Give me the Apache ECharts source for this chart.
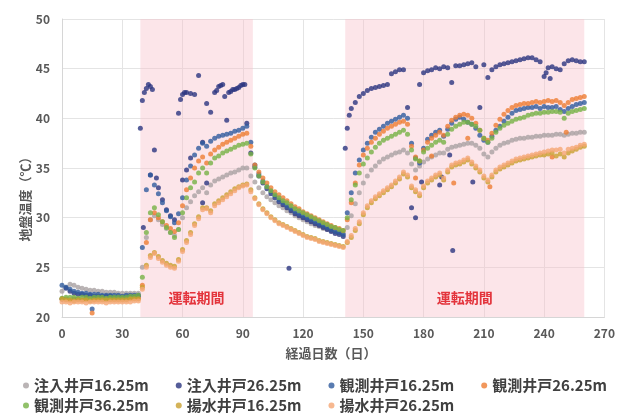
<!DOCTYPE html>
<html>
<head>
<meta charset="utf-8">
<script src="https://cdn.jsdelivr.net/npm/echarts@6/dist/echarts.min.js"></script>
<style>
  html, body { margin: 0; padding: 0; background: #ffffff; }
  #chart { width: 618px; height: 414px; }
</style>
</head>
<body>
<div id="chart"></div>
<script>
// Elapsed days of the readings (every 2 days, day 0 to day 260)
const days = [];
for (let d = 0; d <= 260; d += 2) days.push(d);

// Operation periods (start day, end day)
const runPeriods = [[39, 95], [141, 260]];
const runLabel = '運転期間';

const xTicks = { min: 0, max: 270, interval: 30 };
const yTicks = { min: 20, max: 50, interval: 5 };

const seriesNames = ['注入井戸16.25m', '注入井戸26.25m', '観測井戸16.25m', '観測井戸26.25m',
                     '観測井戸36.25m', '揚水井戸16.25m', '揚水井戸26.25m'];

// Ground temperature (°C) per well, one value per entry of `days`
const inj1 = [
  22.6, 23.0, 23.3, 23.2, 23.0, 22.9, 22.8, 22.7, 22.7, 22.6, 22.6, 22.5, 22.5, 22.5, 22.4, 22.4, 22.4, 22.4, 22.4, 22.4,
  25.0, 28.0, 29.8, 30.2, 29.8, 29.3, 28.9, 28.5, 28.2, 28.8, 30.0, 31.0, 31.6, 32.2, 32.6, 33.0, 32.5, 33.3, 33.7, 33.9, 34.1, 34.3, 34.5, 34.6, 34.8, 35.0, 35.0, 34.2,
  33.6, 33.0, 32.5, 32.1, 31.8, 31.5, 31.2, 31.0, 30.7, 30.5, 30.2, 30.0, 29.8, 29.6, 29.4, 29.2, 29.1, 28.9, 28.8, 28.7, 28.6, 28.5, 28.4,
  29.0, 30.2, 31.4, 32.5, 33.5, 34.2, 34.8, 35.2, 35.6, 35.9, 36.1, 36.3, 36.5, 36.6, 36.8, 36.5, 35.4, 34.8, 35.2, 35.6,
  35.9, 36.1, 36.3, 36.5, 36.5, 36.9, 37.1, 37.2, 37.3, 37.4, 37.5, 37.5, 37.3, 37.0, 36.4, 36.1, 36.6, 37.0, 37.3, 37.5,
  37.6, 37.8, 37.9, 38.0, 38.0, 38.1, 38.1, 38.2, 38.2, 38.3, 38.3, 38.3, 38.4, 38.4, 38.3, 38.4, 38.5, 38.5, 38.6, 38.6
];
const inj2 = [
  21.8, 22.9, 22.6, 22.4, 22.3, 22.3, 22.2, 22.2, 22.1, 22.1, 22.1, 22.1, 22.1, 22.0, 22.0, 22.0, 22.0, 22.0, 22.0, 22.1,
  41.8, 43.0, 43.2, 36.8, 33.0, 31.8, 30.8, 30.2, 29.8, 40.5, 42.4, 42.6, 42.5, 42.4, 44.3, 37.6, 41.5, 40.6, 42.6, 43.2, 43.4, 39.8, 42.7, 42.9, 43.1, 43.4, 39.5, 36.5,
  35.1, 34.2, 33.5, 32.9, 32.4, 32.0, 31.6, 31.3, 31.0, 30.7, 30.4, 30.2, 30.0, 29.8, 29.6, 29.4, 29.2, 29.0, 28.8, 28.6, 28.4, 28.3, 28.1,
  39.0, 41.0, 41.6, 42.2, 42.5, 42.8, 43.0, 43.1, 43.2, 43.3, 43.4, 44.5, 44.7, 44.9, 44.9, 41.1, 31.0, 30.0, 43.4, 44.6,
  44.8, 44.9, 45.1, 45.0, 45.2, 45.1, 43.6, 45.3, 45.3, 45.4, 45.5, 45.6, 45.2, 41.1, 45.4, 44.1, 44.9, 45.2, 45.4, 45.5,
  45.6, 45.7, 45.8, 45.9, 46.0, 46.1, 46.1, 45.9, 45.7, 44.2, 45.1, 45.2, 45.0, 44.9, 45.5, 45.8, 45.9, 45.8, 45.7, 45.7
];
const obs1 = [
  23.2, 23.0, 22.8, 22.6, 22.5, 22.4, 22.4, 22.3, 22.3, 22.3, 22.2, 22.2, 22.2, 22.2, 22.2, 22.1, 22.2, 22.2, 22.2, 22.2,
  27.0, 32.8, 34.3, 33.3, 32.4, 31.5, 30.7, 30.1, 29.5, 30.4, 32.0, 33.8, 35.2, 36.3, 37.0, 37.5, 37.2, 37.7, 38.0, 38.2, 38.3, 38.4, 38.5, 38.7, 38.8, 39.0, 39.2, 37.6,
  35.3, 34.4, 33.7, 33.1, 32.6, 32.2, 31.8, 31.5, 31.2, 30.9, 30.6, 30.4, 30.2, 30.0, 29.8, 29.6, 29.4, 29.2, 29.0, 28.8, 28.6, 28.5, 28.3,
  30.5, 32.5, 34.5, 35.8, 36.8, 37.5, 38.1, 38.6, 38.9, 39.2, 39.5, 39.7, 39.9, 40.1, 40.3, 40.0, 37.5, 36.0, 35.5, 37.0,
  37.9, 38.3, 38.6, 38.8, 38.2, 38.9, 39.5, 39.9, 40.1, 39.9, 39.6, 39.4, 39.0, 38.3, 37.8, 37.6, 38.2, 38.8, 39.2, 39.7,
  40.1, 40.5, 40.8, 40.9, 41.0, 41.1, 41.1, 41.2, 41.0, 41.2, 41.1, 41.1, 41.2, 40.9, 40.7, 41.0, 41.2, 41.4, 41.5, 41.6
];
const obs2 = [
  21.8, 21.8, 21.7, 21.8, 21.8, 21.7, 21.8, 21.8, 21.7, 21.8, 21.8, 21.8, 21.8, 21.8, 21.8, 21.8, 21.8, 21.9, 21.9, 21.9,
  23.2, 27.5, 29.8, 30.5, 30.0, 29.6, 29.2, 28.9, 28.6, 29.5, 31.2, 32.8, 34.0, 35.0, 35.7, 36.1, 35.5, 36.4, 36.8, 37.1, 37.4, 37.6, 37.8, 38.0, 38.2, 38.4, 38.5, 37.2,
  35.3, 34.6, 34.0, 33.5, 33.0, 32.6, 32.3, 32.0, 31.7, 31.4, 31.1, 30.9, 30.6, 30.4, 30.2, 30.0, 29.8, 29.6, 29.4, 29.2, 29.0, 28.9, 28.7,
  29.8, 31.5, 33.5, 35.3, 36.3, 37.0, 37.6, 38.0, 38.4, 38.7, 39.0, 39.2, 39.4, 39.6, 39.7, 39.4, 37.2, 36.1, 35.7, 36.8,
  37.6, 38.0, 38.3, 38.6, 38.3, 39.2, 39.8, 40.1, 40.3, 40.4, 40.3, 40.0, 39.5, 38.8, 38.0, 37.8, 38.5, 39.3, 39.9, 40.4,
  40.8, 41.1, 41.3, 41.4, 41.5, 41.5, 41.6, 41.7, 41.6, 41.7, 41.8, 41.7, 41.8, 41.6, 41.3, 41.6, 41.9, 42.0, 42.1, 42.2
];
const obs3 = [
  21.9, 22.0, 22.0, 22.0, 21.9, 22.0, 22.0, 21.9, 22.0, 22.0, 22.0, 21.9, 22.0, 22.0, 22.0, 22.0, 22.0, 22.1, 22.1, 22.2,
  24.0, 28.5, 30.5, 31.0, 30.3, 29.6, 29.0, 28.5, 28.0, 28.8, 30.5, 32.0, 33.0, 33.6, 34.5, 35.0, 34.5, 35.5, 36.0, 36.2, 36.5, 36.7, 36.9, 37.1, 37.3, 37.4, 37.5, 36.4,
  35.0, 34.2, 33.6, 33.1, 32.7, 32.3, 32.0, 31.7, 31.5, 31.2, 30.9, 30.7, 30.5, 30.3, 30.1, 29.9, 29.7, 29.5, 29.3, 29.1, 29.0, 28.8, 28.7,
  30.0, 31.8, 33.3, 34.5, 35.4, 36.0, 36.6, 37.1, 37.5, 37.8, 38.0, 38.2, 38.4, 38.6, 38.8, 38.4, 36.8, 35.9, 35.7, 36.6,
  37.0, 37.3, 37.6, 37.8, 37.6, 38.4, 38.9, 39.2, 39.4, 39.6, 39.6, 39.4, 39.2, 38.8, 38.0, 37.6, 38.0, 38.6, 39.0, 39.3,
  39.5, 39.7, 39.9, 40.0, 40.1, 40.3, 40.4, 40.5, 40.5, 40.6, 40.6, 40.7, 40.7, 40.6, 40.0, 40.5, 40.7, 40.8, 40.9, 41.0
];
const pump1 = [
  21.8, 21.7, 21.7, 21.6, 21.7, 21.7, 21.7, 21.6, 21.7, 21.7, 21.7, 21.7, 21.7, 21.7, 21.7, 21.7, 21.7, 21.8, 21.8, 21.8,
  23.0, 25.2, 26.2, 26.5, 26.1, 25.7, 25.4, 25.2, 25.1, 25.8, 26.8, 27.7, 28.5, 29.4, 30.1, 31.0, 31.0, 30.7, 31.4, 31.7, 32.0, 32.3, 32.6, 32.9, 33.1, 33.3, 33.4, 32.8,
  32.0, 31.4, 30.9, 30.5, 30.1, 29.8, 29.5, 29.3, 29.1, 28.9, 28.7, 28.5, 28.3, 28.1, 28.0, 27.9, 27.7, 27.6, 27.5, 27.4, 27.3, 27.2, 27.1,
  27.5, 28.0, 28.7, 29.4, 30.3, 31.0, 31.5, 31.9, 32.2, 32.5, 32.8, 33.1, 33.5, 33.9, 34.4, 34.1, 33.0, 32.6, 32.2, 33.0,
  33.5, 33.8, 34.1, 34.3, 33.8, 34.6, 35.1, 35.3, 35.4, 35.6, 35.8, 35.4, 35.0, 34.6, 34.0, 33.6, 34.1, 34.6, 34.9, 35.1,
  35.3, 35.5, 35.7, 35.8, 35.9, 36.0, 36.1, 36.2, 36.3, 36.3, 36.4, 36.5, 36.2, 36.4, 36.1, 36.5, 36.7, 36.9, 37.1, 37.2
];
const pump2 = [
  21.5, 21.5, 21.4, 21.5, 21.5, 21.5, 21.4, 21.5, 21.5, 21.5, 21.5, 21.4, 21.5, 21.5, 21.5, 21.5, 21.5, 21.5, 21.6, 21.6,
  22.8, 25.0, 26.0, 26.4, 25.9, 25.5, 25.2, 25.0, 24.9, 25.6, 26.6, 27.5, 28.3, 29.2, 29.9, 30.8, 30.9, 30.5, 31.2, 31.5, 31.8, 32.1, 32.4, 32.7, 33.0, 33.2, 33.3, 32.6,
  31.9, 31.3, 30.8, 30.4, 30.0, 29.7, 29.4, 29.2, 29.0, 28.8, 28.6, 28.4, 28.2, 28.0, 27.9, 27.8, 27.6, 27.5, 27.4, 27.3, 27.2, 27.1, 27.0,
  27.6, 28.2, 28.9, 29.6, 30.5, 31.2, 31.7, 32.1, 32.4, 32.7, 33.0, 33.3, 33.7, 34.1, 34.6, 34.3, 33.2, 32.8, 32.4, 33.2,
  33.7, 34.0, 34.3, 34.5, 34.0, 34.8, 35.3, 35.5, 35.6, 35.8, 36.0, 35.6, 35.2, 34.8, 34.2, 33.8, 34.3, 34.8, 35.1, 35.3,
  35.5, 35.7, 35.9, 36.0, 36.1, 36.2, 36.3, 36.4, 36.5, 36.6, 36.7, 36.8, 36.8, 36.9, 36.5, 36.9, 37.0, 37.1, 37.3, 37.4
];

// Extra readings taken between the regular ones, as [day, °C]
const inj2Extra = [
  [39, 39.0], [41, 42.6], [43, 43.4], [45, 42.9], [40.5, 29.0], [44, 34.3], [47, 34.0],
  [59, 41.9], [61, 42.6], [60, 33.8], [62, 34.8], [64, 36.0], [70, 31.5], [72, 33.5],
  [77, 42.8], [79, 43.3], [81, 42.2], [83, 42.6], [85, 42.9], [87, 43.0], [89, 43.3], [91, 43.4],
  [113, 24.9], [141, 37.0], [143, 40.3], [179, 33.6], [188, 33.3], [189, 34.1], [193, 36.3],
  [194.5, 26.7], [204.5, 33.6], [241, 44.6], [243, 44.0]
];
const obs1Extra = [[15, 20.8]];
const obs2Extra = [[15, 20.4], [176, 34.0], [184, 36.2], [195, 33.5], [202, 38.0], [213, 33.1], [244, 36.1], [251, 38.6]];

const colors = ['#a9a1a3', '#2b3580', '#2f5b9e', '#ee7d33', '#76b245', '#c9a030', '#f5a674'];
const values = [inj1, inj2, obs1, obs2, obs3, pump1, pump2];
const extras = [[], inj2Extra, obs1Extra, obs2Extra, [], [], []];

const labelFont = 'Noto Sans CJK JP';
const axisColor = '#595959';

const series = seriesNames.map((name, k) => {
  const pts = days.map((d, i) => [d, values[k][i]]).concat(extras[k]);
  const s = {
    name: name,
    type: 'scatter',
    data: pts,
    symbol: 'circle',
    symbolSize: 5,
    itemStyle: { color: colors[k] },
    emphasis: { disabled: true }
  };
  if (k === 0) {
    s.markArea = {
      silent: true,
      itemStyle: { color: 'rgba(247, 190, 200, 0.4)' },
      label: {
        show: true, position: 'insideBottom', distance: 12,
        color: '#e3343c', fontSize: 14, fontWeight: 'bold', fontFamily: labelFont
      },
      data: runPeriods.map(p => [{ xAxis: p[0], name: runLabel }, { xAxis: p[1] }])
    };
  }
  return s;
});

const legendText = { color: '#404040', fontSize: 15, fontWeight: 'bold', fontFamily: labelFont };

const chart = echarts.init(document.getElementById('chart'), null, { renderer: 'canvas' });
chart.setOption({
  animation: false,
  backgroundColor: '#ffffff',
  color: colors,
  grid: { left: 62, right: 13, top: 19, bottom: 97 },
  xAxis: {
    type: 'value',
    min: xTicks.min, max: xTicks.max, interval: xTicks.interval,
    axisLine: { show: true, lineStyle: { color: '#d6d6d6' } },
    axisTick: { show: false },
    splitLine: { show: true, lineStyle: { color: '#e4e4e4' } },
    axisLabel: { color: axisColor, fontSize: 12, fontWeight: 'bold', fontFamily: labelFont, margin: 10 }
  },
  yAxis: {
    type: 'value',
    min: yTicks.min, max: yTicks.max, interval: yTicks.interval,
    axisLine: { show: true, lineStyle: { color: '#d6d6d6' } },
    axisTick: { show: false },
    splitLine: { show: true, lineStyle: { color: '#e4e4e4' } },
    axisLabel: { color: axisColor, fontSize: 12, fontWeight: 'bold', fontFamily: labelFont, margin: 12 }
  },
  legend: [
    {
      data: seriesNames.slice(0, 4),
      left: 18, top: 373, width: 600, orient: 'horizontal',
      icon: 'circle', itemWidth: 6, itemHeight: 6, itemGap: 27,
      textStyle: legendText
    },
    {
      data: seriesNames.slice(4),
      left: 18, top: 393, width: 600, orient: 'horizontal',
      icon: 'circle', itemWidth: 6, itemHeight: 6, itemGap: 27,
      textStyle: legendText
    }
  ],
  graphic: [
    {
      type: 'text', x: 331, y: 353,
      style: {
        text: '経過日数（日）', fill: axisColor, font: 'bold 13px "Noto Sans CJK JP"',
        textAlign: 'center', textVerticalAlign: 'middle'
      }
    },
    {
      type: 'text', x: 25, y: 196, rotation: Math.PI / 2,
      style: {
        text: '地盤温度（℃）', fill: axisColor, font: 'bold 13px "Noto Sans CJK JP"',
        textAlign: 'center', textVerticalAlign: 'middle'
      }
    }
  ],
  series: series
});
</script>
</body>
</html>
